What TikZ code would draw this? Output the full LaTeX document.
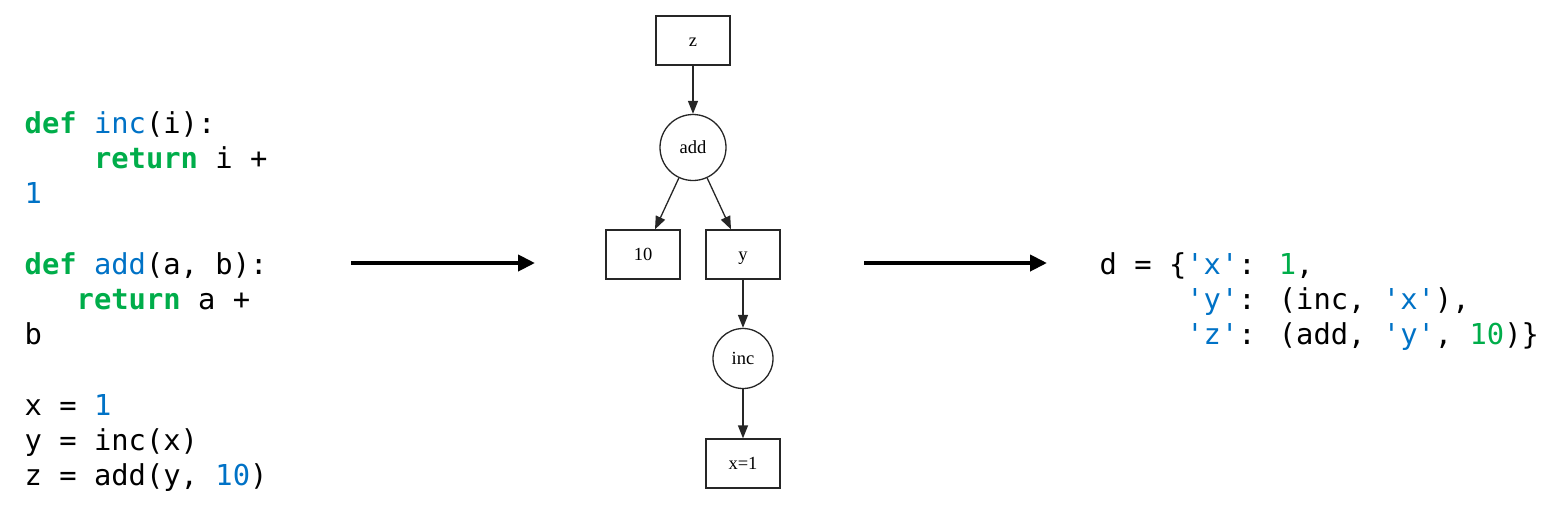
\documentclass[tikz,border=0pt]{standalone}
\usepackage{fontspec}
\usetikzlibrary{arrows.meta}
\newfontfamily\codefont[Ligatures=TeXOff]{DejaVu Sans Mono}
\newfontfamily\gvfont{Liberation Serif}
\definecolor{kwgreen}{HTML}{00AD4A}
\definecolor{idblue}{HTML}{0072C6}
\definecolor{gvline}{HTML}{262626}
\newcommand{\kw}[1]{\textcolor{kwgreen}{\bfseries #1}}
\newcommand{\bl}[1]{\textcolor{idblue}{#1}}
\newcommand{\gn}[1]{\textcolor{kwgreen}{#1}}
\newcommand{\qq}{\char39\relax}
\tikzset{
  codeline/.style={anchor=base west, inner sep=0pt, font=\codefont\fontsize{28.8}{35}\selectfont},
  gvbox/.style={draw=gvline, line width=1.3pt, minimum width=74pt, minimum height=49pt, inner sep=0pt, text height=11pt, text depth=0pt, font=\gvfont\fontsize{18.5}{20}\selectfont},
  gvcirc/.style={draw=gvline, line width=1.3pt, circle, inner sep=0pt, text height=11pt, text depth=0pt, font=\gvfont\fontsize{18.5}{20}\selectfont},
  gvedge/.style={draw=gvline, line width=1.3pt, -{Triangle[length=13pt,width=10pt]}},
  bigarrow/.style={line width=4pt, -{Triangle[length=17pt,width=16pt]}}
}
\begin{document}
\begin{tikzpicture}[x=1pt,y=-1pt]
\useasboundingbox (0,0) rectangle (1548,512);
% left code
\node[codeline] (l1) at (24.5,133.5) {\kw{def} \bl{inc}(i):};
\node[codeline] (l2) at (24.5,168.7) {\phantom{abcd}\kw{return} i +};
\node[codeline] (l3) at (24.5,203.9) {\bl{1}};
\node[codeline] (l5) at (24.5,274.3) {\kw{def} \bl{add}(a, b):};
\node[codeline] (l6) at (24.5,309.5) {\phantom{abc}\kw{return} a +};
\node[codeline] (l7) at (24.5,344.7) {b};
\node[codeline] (l9) at (24.5,415.1) {x = \bl{1}};
\node[codeline] (l10) at (24.5,450.3) {y = inc(x)};
\node[codeline] (l11) at (24.5,485.5) {z = add(y, \bl{10})};
% right code
\node[codeline] (r1) at (1099.5,274.3) {d = \{\bl{\qq x\qq}: \gn{1},};
\node[codeline] (r2) at (1099.5,309.5) {\phantom{abcde}\bl{\qq y\qq}: (inc, \bl{\qq x\qq}),};
\node[codeline] (r3) at (1099.5,344.7) {\phantom{abcde}\bl{\qq z\qq}: (add, \bl{\qq y\qq}, \gn{10})\}};
% graph
\node[gvbox] (z) at (693,40.5) {z};
\node[gvcirc, minimum size=66pt] (add) at (693,147.5) {add};
\node[gvbox] (ten) at (643,254.5) {10};
\node[gvbox] (y) at (743,254.5) {y};
\node[gvcirc, minimum size=60pt] (inc) at (743,358.5) {inc};
\node[gvbox] (x) at (743,463.5) {x=1};
\draw[gvedge] (z) -- (add);
\draw[gvedge] (add) -- (ten.north -| 655,0);
\draw[gvedge] (add) -- (y.north -| 731,0);
\draw[gvedge] (y) -- (inc);
\draw[gvedge] (inc) -- (x);
% big arrows
\coordinate (a1s) at (351,263);
\coordinate (a1e) at (535,263);
\coordinate (a2s) at (864,263);
\coordinate (a2e) at (1047,263);
\draw[bigarrow] (a1s) -- (a1e);
\draw[bigarrow] (a2s) -- (a2e);
\end{tikzpicture}
\end{document}
